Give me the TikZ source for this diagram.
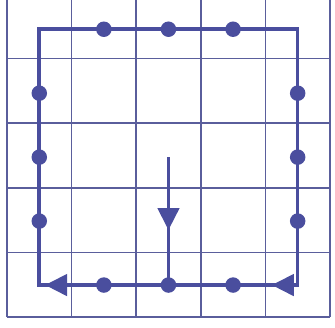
\documentclass[tikz,border=0pt]{standalone}
\usepackage{tikz}
\usepackage{xcolor}
\usetikzlibrary{arrows.meta,positioning}
\definecolor{cG}{HTML}{5a5e9c}
\definecolor{cP}{HTML}{4a4e9e}
\tikzset{
  gridline/.style={cG,line width=0.7pt},
  route/.style={cP,line width=1.6pt,line join=miter},
  stop/.style={circle,fill=cP,inner sep=0pt,minimum size=2.4mm},
  tri/.style={route,-{Triangle[length=3.4mm,width=3.3mm]}},
}

\begin{document}
\begin{tikzpicture}[x=1cm,y=0.99cm]
  \useasboundingbox (-0.108,-0.156) rectangle (5.078,4.957);
  % the 5x5 grid
  \draw[gridline] (0,0) grid (5,5);
  % corners of the loop and the start
  \coordinate (tl) at (0.5,4.5);
  \coordinate (tr) at (4.5,4.5);
  \coordinate (br) at (4.5,0.5);
  \coordinate (bl) at (0.5,0.5);
  \coordinate (start) at (2.5,2.5);
  % dots on the loop
  \node[stop] (t1) at (1.5,4.5) {};
  \node[stop] (t2) at (2.5,4.5) {};
  \node[stop] (t3) at (3.5,4.5) {};
  \node[stop] (r1) at (4.5,3.5) {};
  \node[stop] (r2) at (4.5,2.5) {};
  \node[stop] (r3) at (4.5,1.5) {};
  \node[stop] (b3) at (3.5,0.5) {};
  \node[stop] (b2) at (2.5,0.5) {};
  \node[stop] (b1) at (1.5,0.5) {};
  \node[stop] (l3) at (0.5,1.5) {};
  \node[stop] (l2) at (0.5,2.5) {};
  \node[stop] (l1) at (0.5,3.5) {};
  % arrow tips
  \coordinate (downtip) at (2.5,1.36);
  \coordinate (brtip) at (4.1,0.5);
  \coordinate (bltip) at (0.59,0.5);
  \draw[route] (bl) -- (l3.center) -- (l2.center) -- (l1.center) -- (tl)
    -- (t1.center) -- (t2.center) -- (t3.center) -- (tr)
    -- (r1.center) -- (r2.center) -- (r3.center) -- (br)
    -- (b3.center) -- (b2.center) -- (b1.center) -- cycle;
  \draw[route] (start) -- (b2.center);
  \draw[tri] (start) -- (downtip);
  \draw[tri] (br) -- (brtip);
  \draw[tri] (b1.center) -- (bltip);
\end{tikzpicture}
\end{document}
